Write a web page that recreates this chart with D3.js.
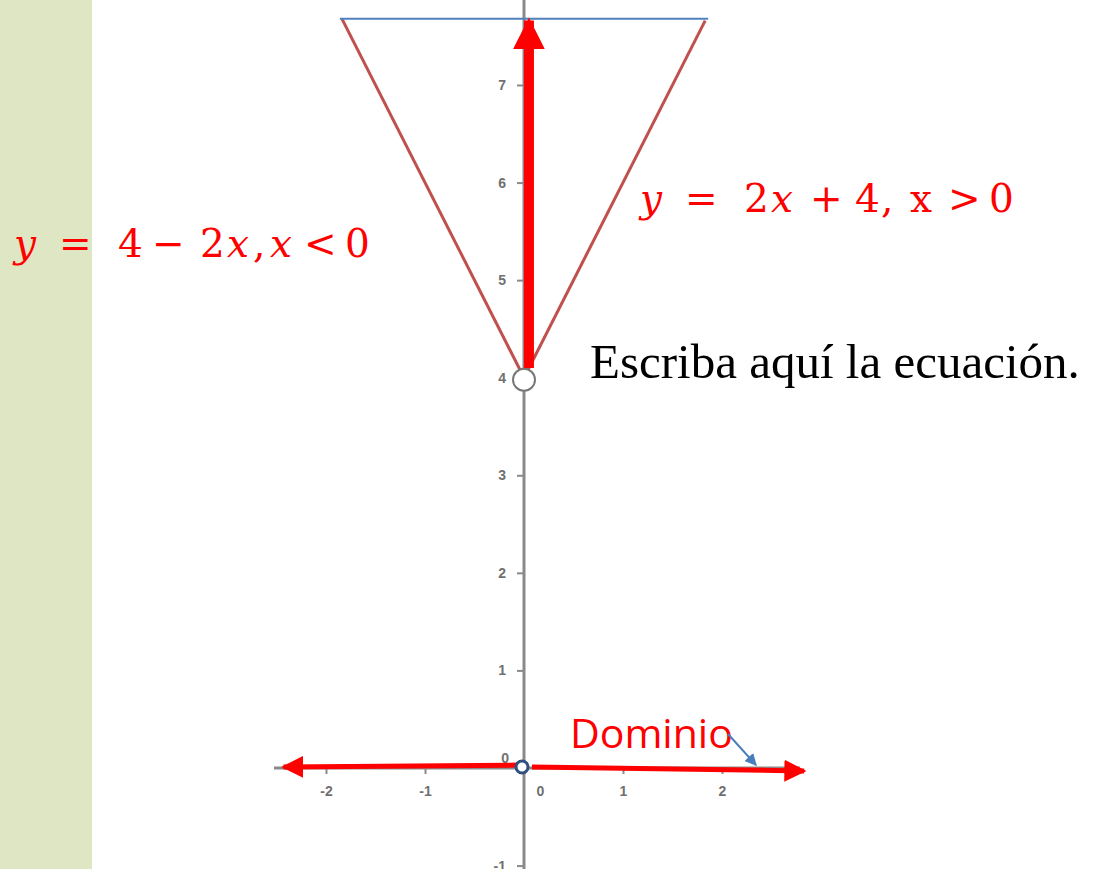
<!DOCTYPE html>
<html>
<head>
<meta charset="utf-8">
<script src="https://cdn.jsdelivr.net/npm/d3@7"></script>
<style>
  body { margin: 0; background: #fff; }
  svg { display: block; }
</style>
</head>
<body>
<div id="my_dataviz"></div>
<script>
// data
var xTicks = [-2, -1, 0, 1, 2];
var yTicks = [-1, 1, 2, 3, 4, 5, 6, 7];
var leftBranchX = [-1.84, 0];
var leftBranchY = [7.68, 4];
var rightBranchX = [0, 1.83];
var rightBranchY = [4, 7.66];
var topLineX = [-1.86, 1.86];
var topLineY = [7.68, 7.68];
var rangeArrowX = [0.05, 0.05];
var rangeArrowY = [4.1, 7.66];
var domainLeftX = [-0.05, -2.43];
var domainLeftY = [0.03, 0.01];
var domainRightX = [0.08, 2.83];
var domainRightY = [0.01, -0.03];
var openPoint = {x: 0, y: 4};
var originPoint = {x: -0.02, y: 0.01};
// equation pieces: [text, italic?, left x]
var leftEq = [["y", true, 14], ["=", false, 59], ["4", false, 118], ["\u2212", false, 152],
              ["2", false, 200], ["x", true, 227], [",", false, 253], ["x", true, 270],
              ["<", false, 304], ["0", false, 345]];
var rightEq = [["y", true, 640], ["=", false, 685], ["2", false, 744], ["x", true, 771],
               ["+", false, 810], ["4", false, 855], [",", false, 881], ["x", false, 910],
               [">", false, 948], ["0", false, 989]];
var noteText = "Escriba aquí la ecuación.";
var domainText = "Dominio";

var width = 1096, height = 869;

var svg = d3.select("#my_dataviz")
  .append("svg")
    .attr("width", width)
    .attr("height", height);

// green side panel
svg.append("rect")
  .attr("x", 0).attr("y", 0)
  .attr("width", 92).attr("height", height)
  .attr("fill", "#dfe6c4");

var x = d3.scaleLinear().domain([-2, 2]).range([326, 722]);
var y = d3.scaleLinear().domain([0, 7]).range([768, 85]);

var defs = svg.append("defs");
function head(id, color, w, h) {
  defs.append("marker")
    .attr("id", id)
    .attr("viewBox", "0 0 10 10")
    .attr("refX", 9).attr("refY", 5)
    .attr("markerUnits", "userSpaceOnUse")
    .attr("markerWidth", w).attr("markerHeight", h)
    .attr("orient", "auto")
    .append("path")
      .attr("d", "M0,0L10,5L0,10Z")
      .attr("fill", color);
}
head("bigHead", "#ff0000", 32, 32);
head("smallHead", "#ff0000", 22, 22);
head("blueHead", "#4a7ebb", 12, 12);

var tickFont = "Liberation Sans, Arial, sans-serif";
var fmt = function(d) { return String(d); };

// axes
var gx = svg.append("g")
  .attr("transform", "translate(0," + y(0) + ")")
  .call(d3.axisBottom(x).tickValues(xTicks).tickFormat(fmt).tickSize(6).tickSizeOuter(0).tickPadding(12));
gx.select(".domain").remove();
gx.append("line")
  .attr("x1", 274).attr("x2", 800)
  .attr("stroke", "#8a8a8a").attr("stroke-width", 3);
gx.selectAll(".tick line").attr("stroke", "#8a8a8a").attr("stroke-width", 2);
gx.selectAll(".tick text")
  .attr("fill", "#707070").attr("font-size", 14).attr("font-weight", "bold")
  .attr("font-family", tickFont)
  .attr("dx", function(d) { return d === 0 ? 16 : 0; });

var gy = svg.append("g")
  .attr("transform", "translate(" + x(0) + ",0)")
  .call(d3.axisLeft(y).tickValues(yTicks).tickFormat(fmt).tickSize(7).tickSizeOuter(0).tickPadding(11));
gy.select(".domain").remove();
gy.append("line")
  .attr("y1", 0).attr("y2", height)
  .attr("stroke", "#8a8a8a").attr("stroke-width", 3);
gy.selectAll(".tick line").attr("stroke", "#8a8a8a").attr("stroke-width", 2);
gy.selectAll(".tick text")
  .attr("fill", "#707070").attr("font-size", 14).attr("font-weight", "bold")
  .attr("font-family", tickFont);
gy.append("text")
  .attr("x", -15).attr("y", -5 + y(0))
  .attr("text-anchor", "end")
  .attr("fill", "#707070").attr("font-size", 14).attr("font-weight", "bold")
  .attr("font-family", tickFont)
  .text("0");

var line = d3.line()
  .x(function(d) { return x(d[0]); })
  .y(function(d) { return y(d[1]); });

function pts(xs, ys) { return xs.map(function(v, i) { return [v, ys[i]]; }); }

// V branches
svg.append("path")
  .datum(pts(leftBranchX, leftBranchY))
  .attr("fill", "none").attr("stroke", "#c0504d").attr("stroke-width", 3)
  .attr("d", line);
svg.append("path")
  .datum(pts(rightBranchX, rightBranchY))
  .attr("fill", "none").attr("stroke", "#c0504d").attr("stroke-width", 3)
  .attr("d", line);

// top blue line
svg.append("path")
  .datum(pts(topLineX, topLineY))
  .attr("fill", "none").attr("stroke", "#4f81bd").attr("stroke-width", 2)
  .attr("d", line);

// range arrow
svg.append("path")
  .datum(pts(rangeArrowX, rangeArrowY))
  .attr("fill", "none").attr("stroke", "#ff0000").attr("stroke-width", 10)
  .attr("marker-end", "url(#bigHead)")
  .attr("d", line);

// domain arrows
svg.append("path")
  .datum(pts(domainLeftX, domainLeftY))
  .attr("fill", "none").attr("stroke", "#ff0000").attr("stroke-width", 5)
  .attr("marker-end", "url(#smallHead)")
  .attr("d", line);
svg.append("path")
  .datum(pts(domainRightX, domainRightY))
  .attr("fill", "none").attr("stroke", "#ff0000").attr("stroke-width", 5)
  .attr("marker-end", "url(#smallHead)")
  .attr("d", line);

// points
svg.append("circle")
  .attr("cx", x(openPoint.x)).attr("cy", y(openPoint.y) + 2).attr("r", 11)
  .attr("fill", "#fff").attr("stroke", "#777").attr("stroke-width", 2);
svg.append("circle")
  .attr("cx", x(originPoint.x)).attr("cy", y(originPoint.y)).attr("r", 6)
  .attr("fill", "#fff").attr("stroke", "#2f4f7f").attr("stroke-width", 3);

// equations
var mathFont = "DejaVu Serif, Liberation Serif, serif";
function equation(pieces, baseline) {
  var t = svg.append("text")
    .attr("y", baseline)
    .attr("fill", "#ff0000").attr("font-size", 39)
    .attr("font-family", mathFont);
  t.selectAll("tspan")
    .data(pieces)
    .enter()
    .append("tspan")
      .attr("x", function(d) { return d[2]; })
      .attr("font-style", function(d) { return d[1] ? "italic" : "normal"; })
      .text(function(d) { return d[0]; });
}
equation(leftEq, 257);
equation(rightEq, 212);

svg.append("text")
  .attr("x", 590).attr("y", 378)
  .attr("fill", "#000").attr("font-size", 49)
  .attr("font-family", "Liberation Serif, serif")
  .text(noteText);

svg.append("text")
  .attr("x", 570).attr("y", 748)
  .attr("fill", "#ff0000").attr("font-size", 41)
  .attr("font-family", "Open Sans, Liberation Sans, sans-serif")
  .text(domainText);

// little blue pointer
svg.append("line")
  .attr("x1", 728).attr("y1", 734).attr("x2", 756).attr("y2", 765)
  .attr("stroke", "#4a7ebb").attr("stroke-width", 2)
  .attr("marker-end", "url(#blueHead)");
</script>
</body>
</html>
